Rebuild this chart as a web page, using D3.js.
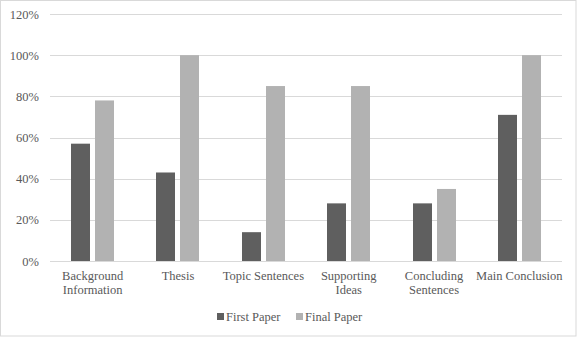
<!DOCTYPE html>
<html>
<head>
<meta charset="utf-8">
<script src="https://cdn.jsdelivr.net/npm/d3@7"></script>
<style>
  body { margin: 0; background: #fff; }
  text { font-family: "Liberation Serif", "DejaVu Serif", serif; fill: #595959; font-size: 12.5px; }
</style>
</head>
<body>
<div id="chart"></div>
<script>
var width = 577;
var height = 337;

var COLOR_FIRST = '#5f5f5f';   // dark gray
var COLOR_FINAL = '#b2b2b2';   // light gray
var COLOR_GRID = '#d9d9d9';

// data
var categories = [['Background', 'Information'], ['Thesis'], ['Topic Sentences'],
    ['Supporting', 'Ideas'], ['Concluding', 'Sentences'], ['Main Conclusion']];
var firstPaper = [57, 43, 14, 28, 28, 71];
var finalPaper = [78, 100, 85, 85, 35, 100];
var seriesNames = ['First Paper', 'Final Paper'];
var yTicks = [0, 20, 40, 60, 80, 100, 120];

var plotLeft = 50, plotRight = 562, plotTop = 14, plotBottom = 261;

var svg = d3.select('#chart')
    .append('svg')
    .attr('width', width)
    .attr('height', height)

// chart border
svg.append('rect')
    .attr('x', 0.5).attr('y', 0.5)
    .attr('width', width - 1.5).attr('height', height - 1.5)
    .attr('fill', 'none')
    .attr('stroke', '#d9d9d9')

var x = d3.scaleBand()
    .domain(d3.range(categories.length))
    .range([plotLeft, plotRight])

var y = d3.scaleLinear()
    .domain([0, 120])
    .range([plotBottom, plotTop])

// gridlines + tick labels
svg.selectAll('.grid')
    .data(yTicks)
    .enter().append('line')
    .attr('x1', plotLeft).attr('x2', plotRight)
    .attr('y1', function (d) { return Math.round(y(d)) + 0.5; })
    .attr('y2', function (d) { return Math.round(y(d)) + 0.5; })
    .attr('stroke', COLOR_GRID)
    .attr('stroke-width', 1)

svg.selectAll('.ytick')
    .data(yTicks)
    .enter().append('text')
    .attr('x', 39)
    .attr('y', function (d) { return y(d) + 4.5; })
    .attr('text-anchor', 'end')
    .text(function (d) { return d + '%'; })

var barWidth = 19, barGap = 5;

var g = svg.append('g')

g.selectAll('.first')
    .data(firstPaper)
    .enter().append('rect')
    .attr('x', function (d, i) { return Math.round(x(i) + x.bandwidth() / 2 - barGap / 2 - barWidth); })
    .attr('width', barWidth)
    .attr('y', function (d) { return y(d); })
    .attr('height', function (d) { return plotBottom - y(d); })
    .attr('fill', COLOR_FIRST)

g.selectAll('.final')
    .data(finalPaper)
    .enter().append('rect')
    .attr('x', function (d, i) { return Math.round(x(i) + x.bandwidth() / 2 + barGap / 2); })
    .attr('width', barWidth)
    .attr('y', function (d) { return y(d); })
    .attr('height', function (d) { return plotBottom - y(d); })
    .attr('fill', COLOR_FINAL)

// category labels
var labels = svg.selectAll('.cat')
    .data(categories)
    .enter().append('text')
    .attr('text-anchor', 'middle')
    .attr('transform', function (d, i) { return 'translate(' + (x(i) + x.bandwidth() / 2) + ',0)'; })

labels.selectAll('tspan')
    .data(function (d) { return d; })
    .enter().append('tspan')
    .attr('x', 0)
    .attr('y', function (d, i) { return 280 + i * 14; })
    .text(function (d) { return d; })

// legend
var legend = svg.append('g')
var lx = [217, 296];
[COLOR_FIRST, COLOR_FINAL].forEach(function (c, i) {
    legend.append('rect')
        .attr('x', lx[i]).attr('y', 313)
        .attr('width', 7).attr('height', 7)
        .attr('fill', c)
    legend.append('text')
        .attr('x', lx[i] + 9).attr('y', 321)
        .text(seriesNames[i])
})
</script>
</body>
</html>
